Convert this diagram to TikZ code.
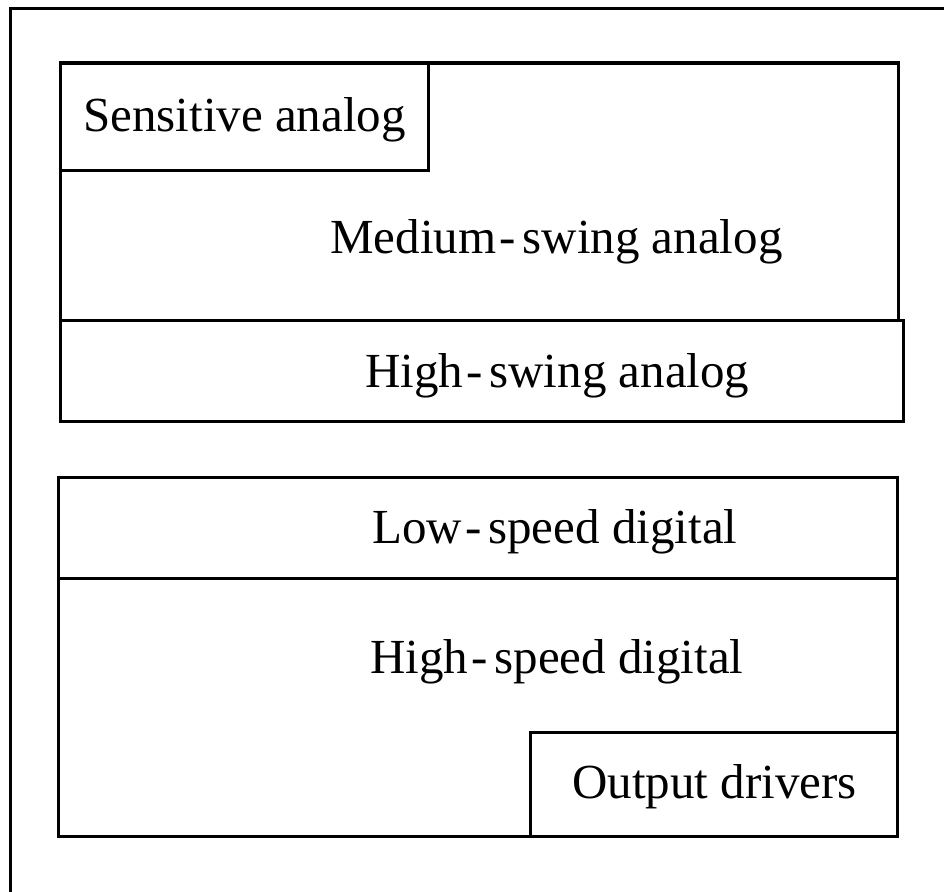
\documentclass[tikz,border=0pt]{standalone}
\usepackage{fontspec}
\setmainfont{Liberation Serif}
\usetikzlibrary{positioning}

\tikzset{
  blk/.style={draw, line width=3pt},
  lbl/.style={font=\fontsize{49}{58}\selectfont, inner sep=0pt, anchor=base west}
}
\newcommand{\hy}{\kern3pt-\kern7pt}

\begin{document}
\begin{tikzpicture}[x=1pt,y=-1pt]
        \useasboundingbox (0,0) rectangle (944,891);
        % chip edge
        \draw [line width=3pt] (10,900) -- (10,9) -- (950,9);
        % analog blocks
        \draw [blk] (60,63) rectangle (898,320);
        \draw [blk] (60,63) rectangle (428,170);
        \draw [blk] (60,320) rectangle (903,421);
        % digital blocks
        \draw [blk] (58,477) rectangle (897,578);
        \draw [blk] (58,578) rectangle (897,836);
        \draw [blk] (530,732) rectangle (897,836);
        % labels
        \node [lbl] (sens) at (83,131) {Sensitive analog};
        \node [lbl] (med) at (330,253) {Medium\hy swing analog};
        \node [lbl] (hiswing) at (365,387) {High\hy swing analog};
        \node [lbl] (lospeed) at (372,543) {Low\hy speed digital};
        \node [lbl] (hispeed) at (370,673) {High\hy speed digital};
        \node [lbl] (drv) at (572,798) {Output drivers};
    \end{tikzpicture}
\end{document}
